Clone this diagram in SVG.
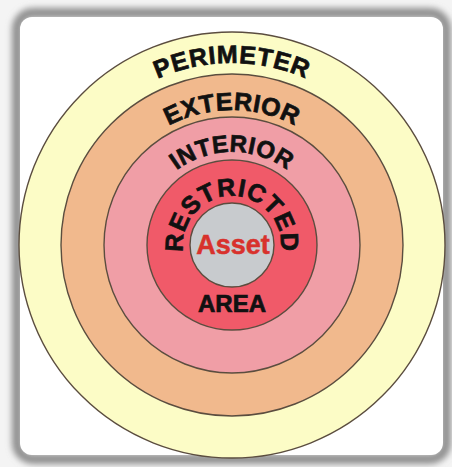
<svg xmlns="http://www.w3.org/2000/svg" width="452" height="467" viewBox="0 0 452 467">
  <style>
    .ring { stroke: #5b4d3f; stroke-width: 1.4; }
    .lbl { font-family: "Liberation Sans", Arial, sans-serif; font-weight: bold; fill: #111; stroke: #111; stroke-width: 0.7; }
  </style>
  <defs>
    <filter id="soft" x="-10%" y="-10%" width="120%" height="120%">
      <feGaussianBlur stdDeviation="3"/>
    </filter>
    <path id="pPer" d="M232,427 A182,182 0 1 1 232,63 A182,182 0 1 1 232,427"/>
    <path id="pExt" d="M232,380 A135,135 0 1 1 232,110 A135,135 0 1 1 232,380"/>
    <path id="pInt" d="M232,338 A93,93 0 1 1 232,152 A93,93 0 1 1 232,338"/>
    <path id="pRes" d="M232,294 A49,49 0 1 1 232,196 A49,49 0 1 1 232,294"/>
  </defs>
  <rect x="0" y="0" width="452" height="467" fill="#f4f4f4"/>
  <g id="frame">
    <rect x="17" y="13" width="429" height="446" rx="16" fill="none" stroke="#8e8e8e" stroke-width="10" filter="url(#soft)"/>
    <rect x="20" y="17" width="423" height="438" rx="12" fill="#ffffff"/>
  </g>
  <g id="perimeter">
    <circle class="ring" cx="232" cy="245" r="213" fill="#fcfcc6"/>
    <text class="lbl" font-size="25" letter-spacing="0.8"><textPath href="#pPer" startOffset="50%" text-anchor="middle">PERIMETER</textPath></text>
  </g>
  <g id="exterior">
    <circle class="ring" cx="232" cy="245" r="171" fill="#f1b98d"/>
    <text class="lbl" font-size="25" letter-spacing="0.5"><textPath href="#pExt" startOffset="50%" text-anchor="middle">EXTERIOR</textPath></text>
  </g>
  <g id="interior">
    <circle class="ring" cx="232" cy="245" r="128" fill="#f09ea6"/>
    <text class="lbl" font-size="24" letter-spacing="0.5"><textPath href="#pInt" startOffset="50%" text-anchor="middle">INTERIOR</textPath></text>
  </g>
  <g id="restricted">
    <circle class="ring" cx="232" cy="245" r="85" fill="#f05a69"/>
    <text class="lbl" font-size="25" letter-spacing="0.8"><textPath href="#pRes" startOffset="50%" text-anchor="middle">RESTRICTED</textPath></text>
    <text class="lbl" x="232" y="312" font-size="24" text-anchor="middle">AREA</text>
  </g>
  <g id="asset">
    <circle class="ring" cx="232" cy="245" r="42" fill="#c8cbce"/>
    <text x="233" y="254" font-family="Liberation Sans, Arial, sans-serif" font-weight="bold" font-size="27" fill="#d8312c" stroke="#d8312c" stroke-width="0.5" text-anchor="middle">Asset</text>
  </g>
</svg>
